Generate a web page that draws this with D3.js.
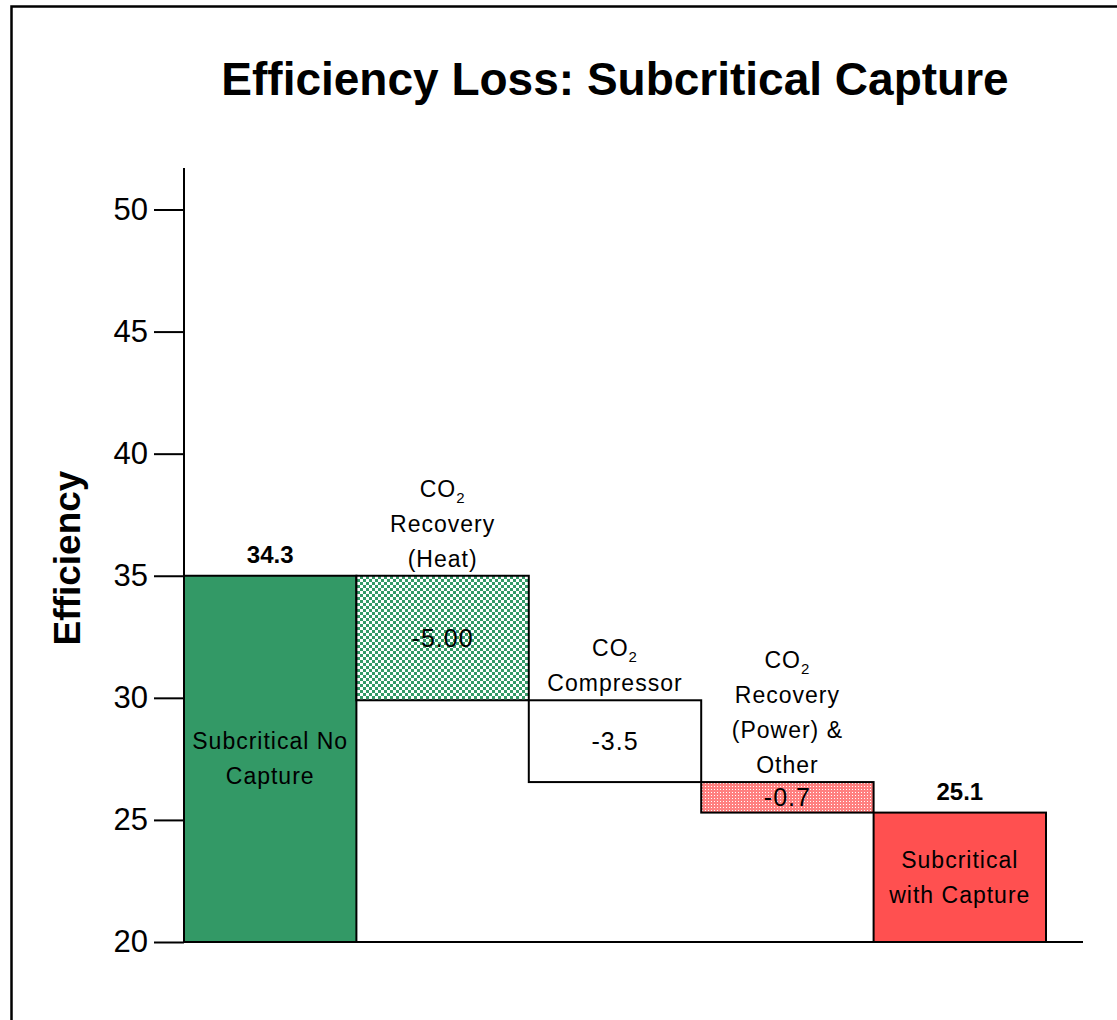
<!DOCTYPE html>
<html>
<head>
<meta charset="utf-8">
<script src="https://cdn.jsdelivr.net/npm/d3@7"></script>
<style>
  body { margin: 0; background: #fff; }
  text { font-family: "Liberation Sans", Arial, sans-serif; fill: #000; }
</style>
</head>
<body>
<div id="chart"></div>
<script>
// Chart data
var categories = ["Subcritical No Capture", "CO2 Recovery (Heat)", "CO2 Compressor", "CO2 Recovery (Power) & Other", "Subcritical with Capture"];
var barStart = [20, 35, 29.9, 26.55, 20];
var barEnd = [35, 29.9, 26.55, 25.3, 25.3];
var valueLabels = ["34.3", "-5.00", "-3.5", "-0.7", "25.1"];
var barKind = ["total", "step", "step", "step", "total"];
var catLines = [
  ["Subcritical No", "Capture"],
  ["CO_2", "Recovery", "(Heat)"],
  ["CO_2", "Compressor"],
  ["CO_2", "Recovery", "(Power) &", "Other"],
  ["Subcritical", "with Capture"]
];
var yTicks = [20, 25, 30, 35, 40, 45, 50];

// Layout
var svgWidth = 1117;
var svgHeight = 1020;
var plot = { left: 184, right: 1046, top: 168, bottom: 942, axisEnd: 1083 };

var barColors = ["#339966", "url(#checkGreen)", "#ffffff", "url(#dotRed)", "#ff5050"];

var svg = d3.select("#chart")
  .append("svg")
  .attr("width", svgWidth)
  .attr("height", svgHeight);

// patterns
var defs = svg.append("defs");
var pg = defs.append("pattern")
  .attr("id", "checkGreen")
  .attr("patternUnits", "userSpaceOnUse")
  .attr("width", 6).attr("height", 6);
pg.append("rect").attr("width", 6).attr("height", 6).attr("fill", "#fff");
pg.append("rect").attr("width", 3).attr("height", 3).attr("fill", "#339966");
pg.append("rect").attr("x", 3).attr("y", 3).attr("width", 3).attr("height", 3).attr("fill", "#339966");

var pr = defs.append("pattern")
  .attr("id", "dotRed")
  .attr("patternUnits", "userSpaceOnUse")
  .attr("width", 3).attr("height", 3);
pr.append("rect").attr("width", 3).attr("height", 3).attr("fill", "#ff8080");
pr.append("rect").attr("width", 1).attr("height", 1).attr("fill", "#fff");

// outer frame (runs off the picture right and bottom)
svg.append("rect")
  .attr("x", 11.5).attr("y", 6.5)
  .attr("width", 1140).attr("height", 1060)
  .attr("fill", "none")
  .attr("stroke", "#000")
  .attr("stroke-width", 2.5);

var x = d3.scaleBand()
  .domain(categories)
  .range([plot.left, plot.right])
  .padding(0);

var y = d3.scaleLinear()
  .domain([20, 51.7])
  .range([plot.bottom, plot.top]);

// title
svg.append("text")
  .attr("x", 615)
  .attr("y", 95)
  .attr("text-anchor", "middle")
  .style("font-size", "46px")
  .style("font-weight", "bold")
  .text("Efficiency Loss: Subcritical Capture");

// y axis label
svg.append("text")
  .attr("transform", "translate(80, 558) rotate(-90)")
  .attr("text-anchor", "middle")
  .style("font-size", "37px")
  .style("font-weight", "bold")
  .text("Efficiency");

// bars
var data = categories.map(function(c, i) {
  return { cat: c, start: barStart[i], end: barEnd[i], label: valueLabels[i], kind: barKind[i], lines: catLines[i], i: i };
});

svg.append("g").selectAll("rect")
  .data(data)
  .enter()
  .append("rect")
  .attr("x", d => x(d.cat))
  .attr("y", d => y(Math.max(d.start, d.end)))
  .attr("width", x.bandwidth())
  .attr("height", d => Math.abs(y(d.start) - y(d.end)))
  .attr("fill", d => barColors[d.i])
  .attr("stroke", "#000")
  .attr("stroke-width", 2);

// y axis
var leftAxis = d3.axisLeft(y).tickValues(yTicks).tickSize(30).tickPadding(6).tickFormat(d3.format("d"));
var yAxisG = svg.append("g")
  .attr("transform", `translate(${plot.left}, 0)`)
  .call(leftAxis);
yAxisG.select(".domain").remove();
yAxisG.selectAll(".tick line").attr("stroke", "#000").attr("stroke-width", 2);
yAxisG.selectAll(".tick text")
  .style("font-size", "31px")
  .style("font-family", "'Liberation Sans', Arial, sans-serif")
  .attr("fill", "#000");

svg.append("line")
  .attr("x1", plot.left).attr("x2", plot.left)
  .attr("y1", plot.top).attr("y2", plot.bottom)
  .attr("stroke", "#000").attr("stroke-width", 2);

svg.append("line")
  .attr("x1", plot.left).attr("x2", plot.axisEnd)
  .attr("y1", plot.bottom).attr("y2", plot.bottom)
  .attr("stroke", "#000").attr("stroke-width", 2);

// helper to write a line, with CO2 subscript
function writeLine(sel, line) {
  if (line === "CO_2") {
    sel.append("tspan").text("CO");
    sel.append("tspan").attr("dy", 6).style("font-size", "15px").text("2");
  } else {
    sel.text(line);
  }
}

var lineH = 35;
var fs = "23px";

data.forEach(function(d) {
  var cx = x(d.cat) + x.bandwidth() / 2;
  var top = y(Math.max(d.start, d.end));
  var bot = y(Math.min(d.start, d.end));
  var mid = (top + bot) / 2;

  if (d.kind === "total") {
    // bold total above bar
    svg.append("text")
      .attr("x", cx).attr("y", top - 13)
      .attr("text-anchor", "middle")
      .style("font-size", "24px")
      .style("font-weight", "bold")
      .text(d.label);
    // name inside bar
    var n = d.lines.length;
    d.lines.forEach(function(line, j) {
      var t = svg.append("text")
        .attr("x", cx)
        .attr("y", mid + (j - (n - 1) / 2) * lineH + 8)
        .attr("text-anchor", "middle")
        .style("font-size", fs)
        .style("letter-spacing", "1px");
      writeLine(t, line);
    });
  } else {
    // step name above bar
    var m = d.lines.length;
    d.lines.forEach(function(line, j) {
      var t = svg.append("text")
        .attr("x", cx)
        .attr("y", top - 9 - (m - 1 - j) * lineH)
        .attr("text-anchor", "middle")
        .style("font-size", fs)
        .style("letter-spacing", "1px");
      writeLine(t, line);
    });
    // value inside bar
    svg.append("text")
      .attr("x", cx).attr("y", mid + 9)
      .attr("text-anchor", "middle")
      .style("font-size", "25px")
      .style("letter-spacing", "1px")
      .text(d.label);
  }
});
</script>
</body>
</html>
